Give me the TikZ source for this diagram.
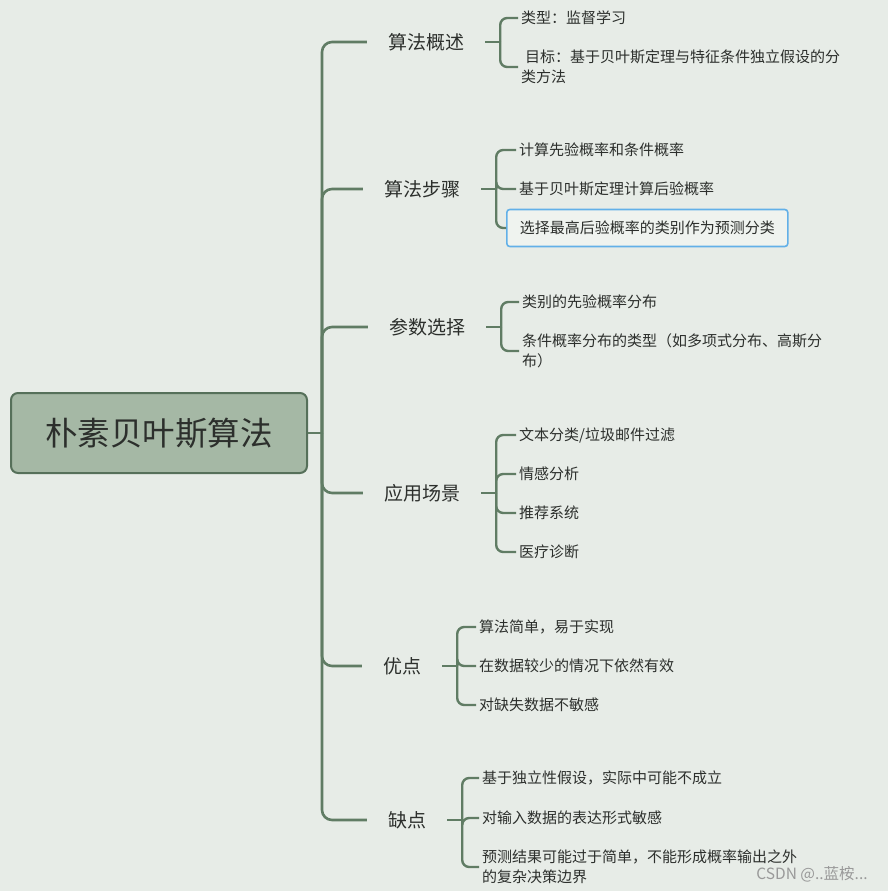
\documentclass[tikz,border=0pt]{standalone}
\usepackage{fontspec}
\setmainfont{Noto Sans CJK SC}
\usetikzlibrary{positioning}
\definecolor{paper}{RGB}{231,236,231}
\definecolor{moss}{RGB}{96,124,100}
\definecolor{sage}{RGB}{165,184,165}
\definecolor{ink}{RGB}{44,47,44}
\definecolor{sky}{RGB}{98,176,232}
\tikzset{
  root/.style={draw=moss!90!black,fill=sage,line width=2pt,rounded corners=7pt,
    minimum width=296pt,minimum height=80pt,text=ink,font=\fontsize{32.5}{37}\selectfont},
  topic/.style={inner xsep=21pt,inner ysep=3pt,text=ink,font=\fontsize{19}{23}\selectfont},
  leaf/.style={anchor=west,inner sep=3pt,align=left,text=ink,font=\fontsize{15}{19.5}\selectfont},
  pick/.style={leaf,draw=sky,fill=white!35!paper,line width=1.6pt,rounded corners=3pt,
    inner xsep=13pt,minimum height=37pt},
  link/.style={draw=moss,line width=2.6pt,rounded corners=10pt},
  twig/.style={draw=moss,line width=2.4pt,rounded corners=7pt},
  stamp/.style={text=black!40,font=\fontsize{15.5}{18}\selectfont},
}
\begin{document}
\begin{tikzpicture}[x=1pt,y=-1pt]
  \fill[paper] (0,0) rectangle (888,891);
  \useasboundingbox (0,0) rectangle (888,891);

  \node[root] (nb) at (159,433) {朴素贝叶斯算法};
  \coordinate (trunk) at (322,433);

  \node[topic] (gs) at (426,42) {算法概述};
  \node[topic] (bz) at (422,189) {算法步骤};
  \node[topic] (cs) at (427,327) {参数选择};
  \node[topic] (yy) at (422,493) {应用场景};
  \node[topic] (yd) at (402,666) {优点};
  \node[topic] (qd) at (407,820) {缺点};

  \draw[link] (nb.east) -- (trunk);
  \foreach \t in {gs,bz,cs,yy,yd,qd}
    \draw[link] (trunk) |- (\t.west);

  % 算法概述
  \coordinate (gsb) at ([xshift=15pt]gs.east);
  \foreach \n/\y/\t in {gs1/18/{类型：监督学习},
      gs2/67/{\hspace{4pt}目标：基于贝叶斯定理与特征条件独立假设的分\\类方法}}
    \node[leaf] (\n) at (518,\y) {\t};
  \draw[twig] (gs.east) -- (gsb);
  \foreach \n in {gs1,gs2} \draw[twig] (gsb) |- (\n.west);

  % 算法步骤
  \coordinate (bzb) at ([xshift=15pt]bz.east);
  \foreach \n/\y/\t in {bz1/150/{计算先验概率和条件概率}, bz2/189/{基于贝叶斯定理计算后验概率}}
    \node[leaf] (\n) at (516,\y) {\t};
  \node[pick] (bz3) at (506,228) {选择最高后验概率的类别作为预测分类};
  \draw[twig] (bz.east) -- (bzb);
  \foreach \n in {bz1,bz2,bz3} \draw[twig] (bzb) |- (\n.west);

  % 参数选择
  \coordinate (csb) at ([xshift=15pt]cs.east);
  \foreach \n/\y/\t in {cs1/302/{类别的先验概率分布},
      cs2/351/{条件概率分布的类型（如多项式分布、高斯分\\布）}}
    \node[leaf] (\n) at (519,\y) {\t};
  \draw[twig] (cs.east) -- (csb);
  \foreach \n in {cs1,cs2} \draw[twig] (csb) |- (\n.west);

  % 应用场景
  \coordinate (yyb) at ([xshift=15pt]yy.east);
  \foreach \n/\y/\t in {yy1/435/{文本分类/垃圾邮件过滤}, yy2/474/{情感分析},
      yy3/513/{推荐系统}, yy4/552/{医疗诊断}}
    \node[leaf] (\n) at (516,\y) {\t};
  \draw[twig] (yy.east) -- (yyb);
  \foreach \n in {yy1,yy2,yy3,yy4} \draw[twig] (yyb) |- (\n.west);

  % 优点
  \coordinate (ydb) at ([xshift=15pt]yd.east);
  \foreach \n/\y/\t in {yd1/627/{算法简单，易于实现}, yd2/666/{在数据较少的情况下依然有效},
      yd3/705/{对缺失数据不敏感}}
    \node[leaf] (\n) at (476,\y) {\t};
  \draw[twig] (yd.east) -- (ydb);
  \foreach \n in {yd1,yd2,yd3} \draw[twig] (ydb) |- (\n.west);

  % 缺点
  \coordinate (qdb) at ([xshift=15pt]qd.east);
  \foreach \n/\y/\t in {qd1/778/{基于独立性假设，实际中可能不成立}, qd2/818/{对输入数据的表达形式敏感},
      qd3/867/{预测结果可能过于简单，不能形成概率输出之外\\的复杂决策边界}}
    \node[leaf] (\n) at (479,\y) {\t};
  \draw[twig] (qd.east) -- (qdb);
  \foreach \n in {qd1,qd2,qd3} \draw[twig] (qdb) |- (\n.west);

  \node[stamp] (csdn) at (812,874) {CSDN @..蓝桉...};
\end{tikzpicture}
\end{document}
